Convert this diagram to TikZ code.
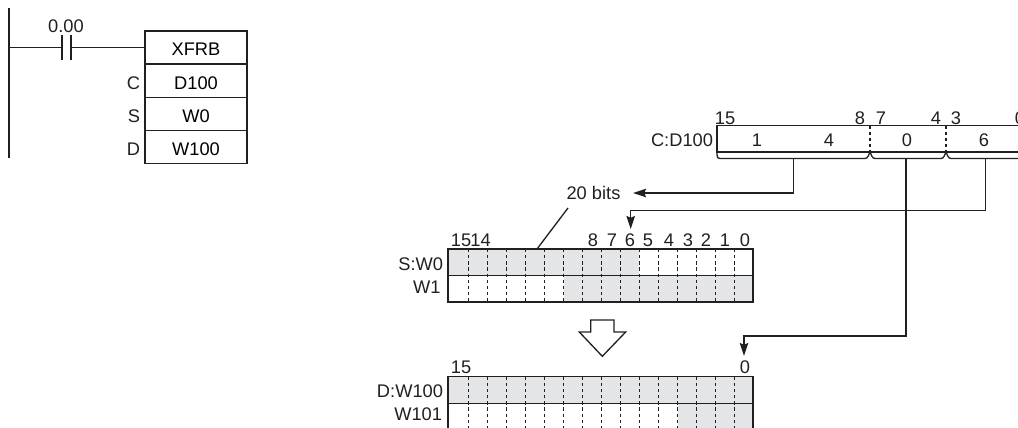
\documentclass[tikz,border=0pt]{standalone}
\usepackage{fontspec}
\setmainfont{Liberation Sans}
\usepackage{tikz}
\usetikzlibrary{arrows.meta}
\definecolor{inkblack}{HTML}{231F20}
\definecolor{bitgray}{HTML}{E4E5E6}
\tikzset{
    wire/.style={draw=inkblack, line width=0.75pt},
    bitdiv/.style={draw=inkblack, line width=0.65pt, dash pattern=on 1.9pt off 1.6pt},
    ladderbox/.style={wire, minimum width=2.04cm, minimum height=0.66cm, inner sep=0pt, outer sep=0pt, text height=9.4pt, text depth=0pt},
    lbl/.style={inner sep=0pt, outer sep=0pt, text=inkblack},
    lblr/.style={lbl, anchor=east},
}
\begin{document}
\begin{tikzpicture}[x=0.02cm, y=-0.02cm, >={Stealth[length=7.4pt,width=4.8pt,inset=1pt]}, line join=miter, font=\fontsize{10.4}{12}\selectfont]
    \clip (0,0) rectangle (1018,427);

    % ladder part
    \coordinate (railtop) at (9,8);
    \coordinate (railbot) at (9,158);
    \coordinate (rung) at (9,47.5);
    \coordinate (contL) at (62,47.5);
    \coordinate (contR) at (71,47.5);
    \node[ladderbox] (xfrb) at (196,47.5) {XFRB};
    \node[ladderbox] (opc) at (196,80.8) {D100};
    \node[ladderbox] (ops) at (196,114) {W0};
    \node[ladderbox] (opd) at (196,147) {W100};
    \draw[wire] (railtop) -- (railbot);
    \draw[wire] (rung) -- (contL);
    \draw[wire] (contR) -- (xfrb.west);
    \draw[wire] (62,35) -- (62,60);
    \draw[wire] (71,35) -- (71,60);
    \node[lbl] (contlbl) at (66,26.5) {0.00};
    \node[lblr] (clbl) at (140,83) {C};
    \node[lblr] (slbl) at (140,116) {S};
    \node[lblr] (dlbl) at (140,149) {D};

    % control word
    \draw[wire] (1030,125.7) -- (717,125.7) -- (717,152) -- (1030,152);
    \draw[bitdiv] (870,125.7) -- (870,152);
    \draw[bitdiv] (946,125.7) -- (946,152);
    \draw[wire] (717,152) -- (717,155) .. controls (717,157.5) and (718,158.5) .. (720,158.5)
        -- (865,158.5) .. controls (867.5,158.5) and (869,155) .. (870,152)
        .. controls (871,155) and (872.5,158.5) .. (875,158.5)
        -- (941,158.5) .. controls (943.5,158.5) and (945,155) .. (946,152)
        .. controls (947,155) and (948.5,158.5) .. (951,158.5) -- (1030,158.5);
    \foreach \bitx/\bitname/\bittxt in {725/c15/15, 860/c8/8, 881/c7/7, 936/c4/4, 956/c3/3, 1020/c0/0}
        \node[lbl] (\bitname) at (\bitx,118) {\bittxt};
    \foreach \digx/\digname/\digtxt in {757/d3/1, 829/d2/4, 907/d1/0, 984/d0/6}
        \node[lbl] (\digname) at (\digx,140.5) {\digtxt};
    \node[lblr] (cword) at (713,140) {C:D100};

    % source words
    \fill[bitgray] (448,249) rectangle (639,275.7);
    \fill[bitgray] (563.7,275.7) rectangle (753,302);
    \foreach \k in {0,...,14}
        \draw[bitdiv] ({468.3+19*\k},249) -- ({468.3+19*\k},302);
    \draw[wire] (448,249) rectangle (753,302);
    \draw[wire] (448,275.7) -- (753,275.7);
    \foreach \bitx/\bitname/\bittxt in {461/s15/15, 480.5/s14/14, 593/s8/8, 612/s7/7, 630/s6/6, 648/s5/5, 669/s4/4, 688/s3/3, 706/s2/2, 725/s1/1, 745/s0/0}
        \node[lbl] (\bitname) at (\bitx,240) {\bittxt};
    \node[lblr] (sword) at (443,264) {S:W0};
    \node[lblr] (sword1) at (440.5,287) {W1};

    % destination words
    \fill[bitgray] (448,376.7) rectangle (753,403.7);
    \fill[bitgray] (677.7,403.7) rectangle (753,430);
    \foreach \k in {0,...,14}
        \draw[bitdiv] ({468.3+19*\k},376.7) -- ({468.3+19*\k},430);
    \draw[wire] (448,430) -- (448,376.7) -- (753,376.7) -- (753,430);
    \draw[wire] (448,403.7) -- (753,403.7);
    \node[lbl] (d15) at (461,367.7) {15};
    \node[lbl] (d0) at (745,367.7) {0};
    \node[lblr] (dword) at (443,391) {D:W100};
    \node[lblr] (dword1) at (442,414) {W101};

    % hollow arrow between the words
    \draw[wire] (590.7,320) -- (614,320) -- (614,332) -- (625.7,332) -- (602.3,356.3)
        -- (579.3,332) -- (590.7,332) -- cycle;

    % connectors
    \node[lbl, inner xsep=7.2pt] (bits) at (593.5,193) {20 bits};
    \coordinate (braceA) at (793.7,158.5);
    \coordinate (braceB) at (906,158.5);
    \coordinate (braceC) at (985.7,158.5);
    \coordinate (firstbit) at (630.7,229);
    \coordinate (dstbit) at (744,356);
    \coordinate (leadtop) at (568,208);
    \coordinate (leadbot) at (537,249);
    \draw[wire, ->] (braceA) |- (bits.east);
    \draw[wire, ->] (braceC) |- (firstbit |- 0,210.7) -- (firstbit);
    \draw[wire, ->] (braceB) |- (dstbit |- 0,336) -- (dstbit);
    \draw[wire] (leadtop) -- (leadbot);
\end{tikzpicture}
\end{document}
